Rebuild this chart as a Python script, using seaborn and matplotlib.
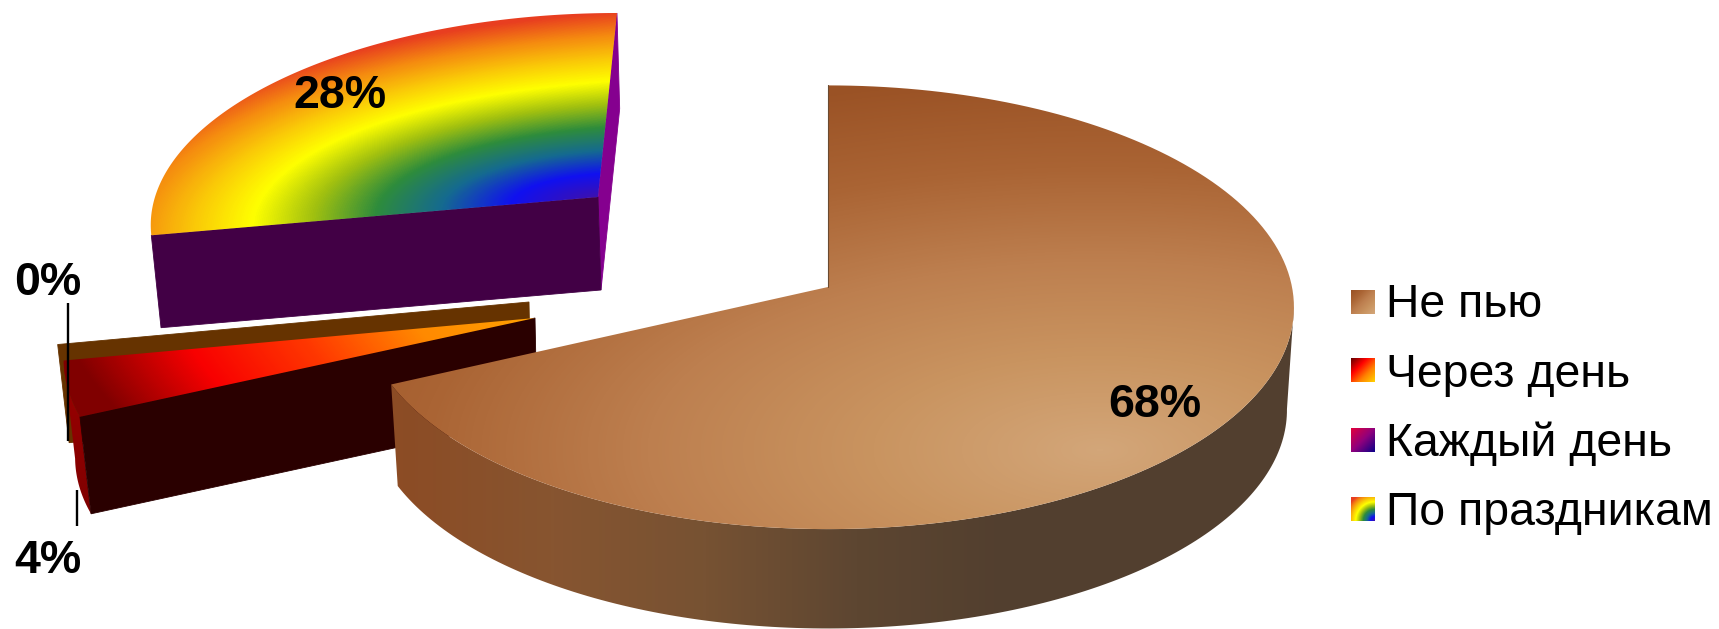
import numpy as np
import matplotlib
matplotlib.use("Agg")
import matplotlib.pyplot as plt
from matplotlib.patches import Polygon
import seaborn as sns

categories = ["Не пью", "Через день", "Каждый день", "По праздникам"]
values = [68, 4, 0, 28]
value_labels = ["68%", "4%", "0%", "28%"]

sns.set_theme(style="white")
plt.rcParams["font.family"] = ["Liberation Sans", "DejaVu Sans"]

W, H = 1719, 629
fig = plt.figure(figsize=(W / 100, H / 100), dpi=100, facecolor="white")
ax = fig.add_axes([0, 0, 1, 1])
ax.set_axis_off()

# slice angles from the values, clockwise from 12 o'clock
fractions = np.array(values) / sum(values)
ends = 90 - 360 * np.cumsum(fractions)
starts = np.concatenate(([90.0], ends[:-1]))

K = 0.0913


def project(t_deg, g, r=1.0, bottom=False):
    t = np.radians(np.asarray(t_deg, dtype=float))
    u, v = r * np.cos(t), -r * np.sin(t)
    den = 1 - K * v
    x = (g["rx"] * u + g["sh"] * v) / den
    y = g["ry"] * v / den
    if bottom:
        return np.c_[g["cx"] + g["dx"] + g["s"] * x, g["cy"] + g["d"] + g["s"] * y]
    return np.c_[g["cx"] + x, g["cy"] + y]


def arc(a, b, n=160):
    return np.linspace(a, b, n)


def top_face(i, g):
    c = project([starts[i]], g, r=0)
    return np.vstack([c, project(arc(starts[i], ends[i]), g)])


def wall(a, b, g):
    return np.vstack([project(arc(a, b), g), project(arc(b, a), g, bottom=True)])


def radial_wall(t, g):
    return np.vstack([project([t], g, r=0), project([t], g),
                      project([t], g, bottom=True), project([t], g, r=0, bottom=True)])


def flat(pts, color, z):
    ax.add_patch(Polygon(pts, closed=True, fc=color, ec=color, lw=0.6, zorder=z))


def shaded(field, pts, cmap, z):
    clip = Polygon(pts, closed=True, transform=ax.transData, fc="none", ec="none")
    ax.add_patch(clip)
    im = ax.imshow(field, extent=(0, W, H, 0), cmap=cmap, vmin=0, vmax=1,
                   aspect="auto", interpolation="bilinear", zorder=z)
    im.set_clip_path(clip)


yy, xx = np.mgrid[0.5:H, 0.5:W]

brown_top = sns.blend_palette(["#9a5225", "#aa6434", "#bd7f4f", "#c99460", "#d3a679"], as_cmap=True)
brown_side = sns.blend_palette(["#8c4c25", "#875530", "#775233", "#5d4631",
                                "#523f2f", "#523f2f"], as_cmap=True)
red_top = sns.blend_palette(["#ffa000", "#ff8a00", "#ff3800", "#f80000", "#800000"], as_cmap=True)
red_side = sns.blend_palette(["#a00000", "#7e0000"], as_cmap=True)
rainbow = sns.blend_palette(["#3c10b0", "#1010f0", "#156a90", "#2e8c3c", "#a0c010",
                             "#ffff00", "#fac808", "#f58a10", "#e83e20"], as_cmap=True)
purple_sw = sns.blend_palette(["#e0003c", "#90007c", "#100088"], as_cmap=True)
redswatch = sns.blend_palette(["#6a0000", "#ff0000", "#ff8000", "#ffd000"], as_cmap=True)

# main slice
g_main = dict(cx=828, cy=287, rx=464, ry=220, sh=0, d=103, dx=0, s=0.985)
# 4% slice and the flat 0% slice behind it
g_red = dict(cx=535, cy=318, rx=463.6, ry=223, sh=-42, d=99, dx=2, s=0.98)
g_zero = dict(cx=529, cy=302, rx=463.6, ry=223, sh=-42, d=99, dx=2, s=0.98)
# 28% slice
g_rain = dict(cx=598, cy=197, rx=443, ry=200.8, sh=-20.7, d=93, dx=3, s=0.985)

# 0% slice
flat(radial_wall(starts[2], g_zero), "#663300", 1)

# 4% slice
flat(radial_wall(ends[0], g_red), "#2a0000", 3)
shaded(np.clip((yy - 340) / 180, 0, 1), wall(starts[1], ends[1], g_red), red_side, 2)
f = (np.abs(xx - g_red["cx"]) / 475) ** 1.5 + (np.abs(yy - g_red["cy"]) / 300) ** 1.5
shaded(np.clip(f, 0, 1) ** (2 / 3), top_face(1, g_red), red_top, 4)

# 28% slice
flat(radial_wall(ends[3] + 360, g_rain), "#85008f", 5)
flat(radial_wall(starts[3] + 360, g_rain), "#420045", 6)
rain_dx = (np.abs(xx - g_rain["cx"]) / 520) ** 1.15
rain_dy = np.abs(yy - (g_rain["cy"] + (g_rain["cx"] - xx) * 0.085)) / 184
f = np.sqrt(rain_dx ** 2 + rain_dy ** 2)
c = project([starts[3]], g_rain, r=0)
pts = np.vstack([c, project(arc(starts[3], ends[3]), g_rain)])
shaded(np.clip(f, 0, 1), pts, rainbow, 7)

# main slice
side = (xx - 400) / 760
shaded(np.clip(side, 0, 1), wall(ends[0], -5, g_main), brown_side, 8)
f = 1 - np.sqrt(((xx - 1100) / 2.4) ** 2 + (yy - 450) ** 2) / 377
shaded(np.clip(f, 0, 1), top_face(0, g_main), brown_top, 9)
edge = np.vstack([project([starts[0]], g_main, r=0), project([starts[0]], g_main)])
ax.plot(edge[:, 0], edge[:, 1], color="#6b4a30", lw=0.8, zorder=9.5)

# leader lines
ax.plot([67.5, 67.5], [303, 441], color="black", lw=1.7, zorder=10, solid_capstyle="butt")
ax.plot([77, 77], [490, 526], color="black", lw=1.7, zorder=10, solid_capstyle="butt")

# value labels
label_pos = {0: (1155, 417), 1: (48, 573), 2: (48, 295), 3: (340, 108)}
for i, (lx, ly) in label_pos.items():
    ax.text(lx, ly, value_labels[i], fontsize=33.5, fontweight="bold", color="black",
            ha="center", va="baseline", zorder=12)

# legend
swatch_top = [290, 358, 428, 497]
baselines = [317, 387, 456, 525]
n = 24
sy, sx = np.mgrid[0:n, 0:n] / (n - 1)
diag = (sx + sy) / 2
corner = np.sqrt((1 - sx) ** 2 + (1 - sy) ** 2) / 1.3
swatches = [(diag, brown_top), (diag, redswatch), (diag, purple_sw), (corner, rainbow)]
for i, name in enumerate(categories):
    fld, cm = swatches[i]
    ax.imshow(fld, extent=(1351, 1375, swatch_top[i] + 24, swatch_top[i]), cmap=cm,
              vmin=0, vmax=1, aspect="auto", zorder=11, interpolation="bilinear")
    ax.text(1386, baselines[i], name, fontsize=33.4, color="black", ha="left", va="baseline", zorder=12)

ax.set_xlim(0, W)
ax.set_ylim(H, 0)
fig.savefig("out.png", dpi=100, facecolor="white")
